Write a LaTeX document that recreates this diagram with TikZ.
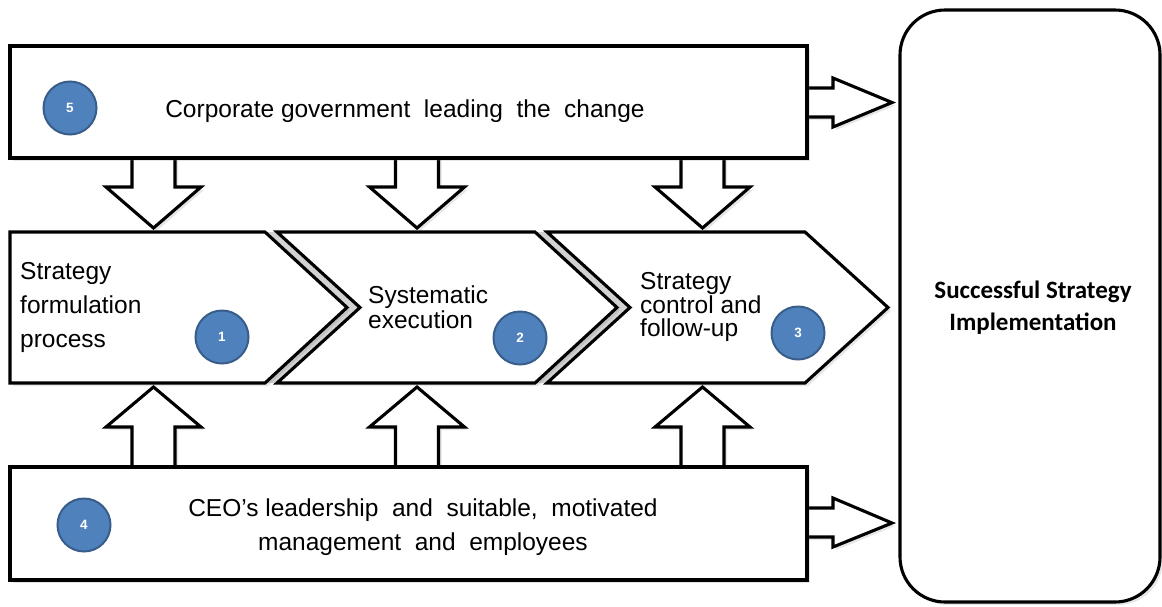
\documentclass[tikz,border=0pt]{standalone}
\usepackage{fontspec}
\setmainfont{Liberation Sans}
\newfontfamily\calibrifont{Carlito}
\usetikzlibrary{shadows}
\definecolor{circfill}{HTML}{4F81BD}
\definecolor{circline}{HTML}{385D8A}
\begin{document}
\begin{tikzpicture}[x=1pt,y=-1pt,
  blk/.style={draw=black, line width=3.1pt, fill=white, line join=miter,
    drop shadow={opacity=0.2, shadow xshift=3pt, shadow yshift=-3pt}},
  num/.style={circle, fill=circfill, draw=circline, line width=2pt, minimum size=53pt,
    inner sep=0pt, text=white, font=\bfseries\fontsize{13.5}{15}\selectfont},
  txt/.style={inner sep=0pt, font=\fontsize{24.5}{28}\selectfont}]
\useasboundingbox (0,0) rectangle (1162,606);

% block arrows (drawn first so that boxes cover their roots)
\foreach \cx in {153.5,417,702.5}{
  \path[blk] (\cx-21.5,150) -- (\cx-21.5,187) -- (\cx-47.5,187) -- (\cx,228)
    -- (\cx+47.5,187) -- (\cx+21.5,187) -- (\cx+21.5,150);
  \path[blk] (\cx-21.5,475) -- (\cx-21.5,427) -- (\cx-47.5,427) -- (\cx,387)
    -- (\cx+47.5,427) -- (\cx+21.5,427) -- (\cx+21.5,475);
}
\path[blk] (800,88) -- (833,88) -- (833,78) -- (892,102.5) -- (833,127) -- (833,117) -- (800,117);
\path[blk] (800,508) -- (833,508) -- (833,498) -- (892,523) -- (833,547) -- (833,537) -- (800,537);

% top and bottom boxes
\node[blk, minimum width=797pt, minimum height=112pt, inner sep=0pt] (gov) at (408.5,102) {};
\node[blk, minimum width=797pt, minimum height=113pt, inner sep=0pt] (ceo) at (408.5,523.5) {};

% result box
\node[blk, rounded corners=45pt, minimum width=260pt, minimum height=592pt, inner sep=0pt] (res) at (1030,306) {};

% chevrons
\fill[gray!35] (265,232) -- (347,307.5) -- (265,383) -- (277,383) -- (360,307.5) -- (277,232) -- cycle;
\fill[gray!35] (535,232) -- (617,307.5) -- (535,383) -- (547,383) -- (630,307.5) -- (547,232) -- cycle;
\path[blk] (10,232) -- (265,232) -- (347,307.5) -- (265,383) -- (10,383) -- cycle;
\path[blk] (277,232) -- (535,232) -- (617,307.5) -- (535,383) -- (277,383) -- (360,307.5) -- cycle;
\path[blk] (547,232) -- (805,232) -- (888,307.5) -- (805,383) -- (547,383) -- (630,307.5) -- cycle;

% texts
\node[txt, anchor=base] (govt) at (405,117) {Corporate government\ \ leading\ \ the\ \ change};
\node[txt, anchor=west, align=left, font=\fontsize{24.5}{34}\selectfont] (s1) at (20,307) {Strategy\\formulation\\process};
\node[txt, anchor=west, align=left, font=\fontsize{24.5}{24.5}\selectfont] (s2) at (368,307) {Systematic\\execution};
\node[txt, anchor=west, align=left, font=\fontsize{24.5}{23.5}\selectfont] (s3) at (640,307) {Strategy\\control and\\follow-up};
\node[txt, align=center, font=\fontsize{24.5}{34}\selectfont] (ceot) at (423,527) {CEO’s leadership\ \ and\ \ suitable,\ \ motivated\\management\ \ and\ \ employees};
\node[txt, align=center, font=\calibrifont\bfseries\fontsize{25}{32}\selectfont] (rest) at (1033,308) {Successful Strategy\\Implementation};

% numbered circles
\node[num] (n5) at (70,108) {5};
\node[num] (n1) at (222,337) {1};
\node[num] (n2) at (520,338) {2};
\node[num] (n3) at (798,333) {3};
\node[num] (n4) at (84,525) {4};
\end{tikzpicture}
\end{document}
